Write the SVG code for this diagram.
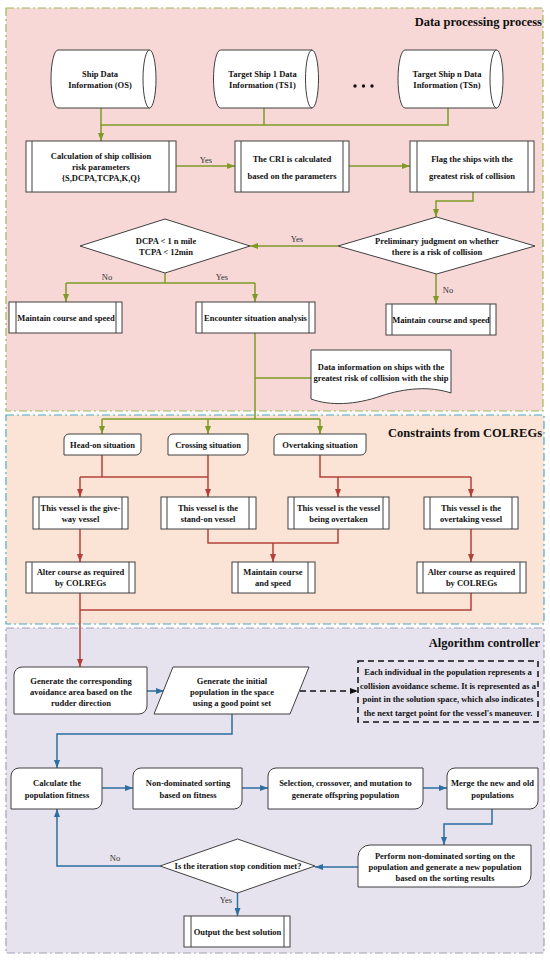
<svg xmlns="http://www.w3.org/2000/svg" width="550" height="962" viewBox="0 0 550 962">
<style>
.t{font-family:"Liberation Serif","Times New Roman",serif;font-weight:bold;font-size:8.5px;text-anchor:middle;fill:#111}
.ti{font-family:"Liberation Serif","Times New Roman",serif;font-weight:bold;font-size:12.5px;text-anchor:end;fill:#111}
.l{font-family:"Liberation Serif","Times New Roman",serif;font-size:8.5px;text-anchor:middle;fill:#333}
.bx{fill:#fff;stroke:#404040;stroke-width:1}
.ln{fill:none;stroke:#404040;stroke-width:1}
.g{fill:none;stroke:#7F9A26;stroke-width:1.5}
.r{fill:none;stroke:#B3413A;stroke-width:1.5}
.b{fill:none;stroke:#2C6FA0;stroke-width:1.5}
.ga{marker-end:url(#ag)}
.ra{marker-end:url(#ar)}
.ba{marker-end:url(#ab)}
</style>
<defs>
<marker id="ag" viewBox="0 0 8 6" refX="8" refY="3" markerWidth="8" markerHeight="6" markerUnits="userSpaceOnUse" orient="auto"><path d="M0,0 L8,3 L0,6 Z" fill="#7F9A26"/></marker>
<marker id="ar" viewBox="0 0 8 6" refX="8" refY="3" markerWidth="8" markerHeight="6" markerUnits="userSpaceOnUse" orient="auto"><path d="M0,0 L8,3 L0,6 Z" fill="#B3413A"/></marker>
<marker id="ab" viewBox="0 0 8 6" refX="8" refY="3" markerWidth="8" markerHeight="6" markerUnits="userSpaceOnUse" orient="auto"><path d="M0,0 L8,3 L0,6 Z" fill="#2C6FA0"/></marker>
<marker id="ak" viewBox="0 0 8 6" refX="8" refY="3" markerWidth="8" markerHeight="6" markerUnits="userSpaceOnUse" orient="auto"><path d="M0,0 L8,3 L0,6 Z" fill="#111"/></marker>
<path id="cyl" d="M58,50 H149.5 A6.5,29 0 0 1 149.5,108 H58 A7,29 0 0 1 58,50 Z"/>
</defs>
<rect width="550" height="962" fill="#fff"/>

<g id="regions">
<rect x="6" y="8" width="537" height="403" fill="#F7D8D7" stroke="#9BBB59" stroke-width="1.2" stroke-dasharray="8,3,2,3"/>
<rect x="6" y="415" width="538" height="209" fill="#FBE4D6" stroke="#4BACC6" stroke-width="1.2" stroke-dasharray="8,3,2,3"/>
<rect x="6" y="628" width="538" height="325" fill="#E7E3EE" stroke="#A39DB8" stroke-width="1.2" stroke-dasharray="8,3,2,3"/>
<text class="ti" x="542" y="26">Data processing process</text>
<text class="ti" x="542" y="437">Constraints from COLREGs</text>
<text class="ti" x="540" y="647">Algorithm controller</text>
</g>

<g id="connectors">
<path class="g" d="M101,108 V125 H448 V108 M264,108 V125"/>
<path class="g ga" d="M101,125 V141"/>
<path class="g ga" d="M176,166 H235"/>
<path class="g ga" d="M349,166 H410"/>
<path class="g ga" d="M473,192 V201 H436 V217"/>
<path class="g ga" d="M338,246 H250"/>
<path class="g" d="M165,273 V283 M66,283 H255"/>
<path class="g ga" d="M66,283 V302"/>
<path class="g ga" d="M255,283 V302"/>
<path class="g ga" d="M436,274 V304"/>
<path class="g" d="M255,333 V419 M255,378 H311 M102,419 H320"/>
<path class="g ga" d="M102,419 V434"/>
<path class="g ga" d="M208,419 V434"/>
<path class="g ga" d="M320,419 V434"/>
<path class="r" d="M102,455 V477 M208,455 V477 M80,477 H208 M320,455 V477 H471"/>
<path class="r ra" d="M80,477 V497"/>
<path class="r ra" d="M208,477 V497"/>
<path class="r ra" d="M338,477 V497"/>
<path class="r ra" d="M471,477 V497"/>
<path class="r ra" d="M80,529 V562"/>
<path class="r" d="M208,529 V543 H338 V529"/>
<path class="r ra" d="M273,543 V562"/>
<path class="r ra" d="M471,529 V562"/>
<path class="r" d="M471,593 V610 H80"/>
<path class="r ra" d="M80,593 V667"/>
<path class="b ba" d="M147,691 H164"/>
<path fill="none" stroke="#111" stroke-width="1.5" stroke-dasharray="6,4" marker-end="url(#ak)" d="M300,691 H358"/>
<path class="b ba" d="M232,714 V734 H57 V768"/>
<path class="b ba" d="M102,788 H133"/>
<path class="b ba" d="M242,788 H268"/>
<path class="b ba" d="M423,788 H447"/>
<path class="b ba" d="M492,809 V824 H444 V845"/>
<path class="b ba" d="M358,867 H315"/>
<path class="b ba" d="M160,866 H57 V809"/>
<path class="b ba" d="M237.5,893 V916"/>
<text class="l" x="206" y="163">Yes</text>
<text class="l" x="297" y="242">Yes</text>
<text class="l" x="107" y="280">No</text>
<text class="l" x="222" y="280">Yes</text>
<text class="l" x="448" y="293">No</text>
<text class="l" x="115" y="861">No</text>
<text class="l" x="226" y="903">Yes</text>
</g>

<g id="os">
<use href="#cyl" class="bx"/>
<path class="ln" d="M149.5,50 A6.5,29 0 0 0 149.5,108"/>
<text class="t" x="100" y="77">Ship Data</text>
<text class="t" x="100" y="88">Information (OS)</text>
</g>
<g id="ts1" transform="translate(162.5,0)">
<use href="#cyl" class="bx"/>
<path class="ln" d="M149.5,50 A6.5,29 0 0 0 149.5,108"/>
<text class="t" x="100" y="77">Target Ship 1 Data</text>
<text class="t" x="100" y="88">Information (TS1)</text>
</g>
<g id="dots" fill="#111">
<circle cx="355" cy="86" r="1.7"/><circle cx="363.5" cy="86" r="1.7"/><circle cx="372" cy="86" r="1.7"/>
</g>
<g id="tsn" transform="translate(347,0)">
<use href="#cyl" class="bx"/>
<path class="ln" d="M149.5,50 A6.5,29 0 0 0 149.5,108"/>
<text class="t" x="100" y="77">Target Ship n Data</text>
<text class="t" x="100" y="88">Information (TSn)</text>
</g>

<g id="calc">
<rect class="bx" x="26" y="141" width="150" height="51"/>
<path class="ln" d="M32,141 V192 M169,141 V192"/>
<text class="t" x="101" y="159">Calculation of ship collision</text>
<text class="t" x="101" y="170">risk parameters</text>
<text class="t" x="101" y="181">{S,DCPA,TCPA,K,Q}</text>
</g>
<g id="cri">
<rect class="bx" x="235" y="141" width="114" height="51"/>
<path class="ln" d="M241,141 V192 M343,141 V192"/>
<text class="t" x="292" y="162">The CRI is calculated</text>
<text class="t" x="292" y="179">based on the parameters</text>
</g>
<g id="flag">
<rect class="bx" x="410" y="141" width="124" height="51"/>
<path class="ln" d="M417,141 V192 M528,141 V192"/>
<text class="t" x="472" y="162">Flag the ships with the</text>
<text class="t" x="472" y="179">greatest risk of collision</text>
</g>
<g id="prelim">
<path class="bx" d="M338,246 L436.5,217 L535,246 L436.5,274 Z"/>
<text class="t" x="437" y="244">Preliminary judgment on whether</text>
<text class="t" x="437" y="255">there is a risk of collision</text>
</g>
<g id="dcpa">
<path class="bx" d="M80,246 L165,219 L250,246 L165,273 Z"/>
<text class="t" x="166" y="244">DCPA &lt; 1 n mile</text>
<text class="t" x="166" y="255">TCPA &lt; 12min</text>
</g>
<g id="maintain1">
<rect class="bx" x="9" y="302" width="113" height="31"/>
<path class="ln" d="M16,302 V333 M116,302 V333"/>
<text class="t" x="66" y="321">Maintain course and speed</text>
</g>
<g id="encounter">
<rect class="bx" x="196" y="302" width="119" height="31"/>
<path class="ln" d="M202,302 V333 M309,302 V333"/>
<text class="t" x="255.5" y="321">Encounter situation analysis</text>
</g>
<g id="maintain2">
<rect class="bx" x="386" y="304" width="110" height="31"/>
<path class="ln" d="M392,304 V335 M490,304 V335"/>
<text class="t" x="441" y="323">Maintain course and speed</text>
</g>
<g id="document">
<path class="bx" d="M311,350 H451 V393 C430,386 405,388 381,396 C355,405 330,406 311,399 Z"/>
<text class="t" x="381" y="370">Data information on ships with the</text>
<text class="t" x="381" y="381">greatest risk of collision with the ship</text>
</g>

<g id="headon">
<path class="bx" d="M64,439 A5,5 0 0 1 69,434 H141 V450 A5,5 0 0 1 136,455 H64 Z"/>
<text class="t" x="102.5" y="448">Head-on situation</text>
</g>
<g id="crossing">
<path class="bx" d="M168,439 A5,5 0 0 1 173,434 H248 V450 A5,5 0 0 1 243,455 H168 Z"/>
<text class="t" x="208" y="448">Crossing situation</text>
</g>
<g id="overtaking">
<path class="bx" d="M274,439 A5,5 0 0 1 279,434 H366 V450 A5,5 0 0 1 361,455 H274 Z"/>
<text class="t" x="320" y="448">Overtaking situation</text>
</g>
<g id="giveway">
<rect class="bx" x="33" y="497" width="95" height="32"/>
<path class="ln" d="M39,497 V529 M122,497 V529"/>
<text class="t" x="80.5" y="511">This vessel is the give-</text>
<text class="t" x="80.5" y="522">way vessel</text>
</g>
<g id="standon">
<rect class="bx" x="161" y="497" width="95" height="32"/>
<path class="ln" d="M167,497 V529 M249,497 V529"/>
<text class="t" x="208" y="511">This vessel is the</text>
<text class="t" x="208" y="522">stand-on vessel</text>
</g>
<g id="overtaken">
<rect class="bx" x="288" y="497" width="101" height="32"/>
<path class="ln" d="M294,497 V529 M383,497 V529"/>
<text class="t" x="338.5" y="511">This vessel is the vessel</text>
<text class="t" x="338.5" y="522">being overtaken</text>
</g>
<g id="overtakingvessel">
<rect class="bx" x="424" y="497" width="94" height="32"/>
<path class="ln" d="M430,497 V529 M512,497 V529"/>
<text class="t" x="471" y="511">This vessel is the</text>
<text class="t" x="471" y="522">overtaking vessel</text>
</g>
<g id="alter1">
<rect class="bx" x="26" y="562" width="109" height="31"/>
<path class="ln" d="M32,562 V593 M129,562 V593"/>
<text class="t" x="80.5" y="575">Alter course as required</text>
<text class="t" x="80.5" y="586">by COLREGs</text>
</g>
<g id="maintain3">
<rect class="bx" x="232" y="562" width="83" height="31"/>
<path class="ln" d="M238,562 V593 M308,562 V593"/>
<text class="t" x="273" y="575">Maintain course</text>
<text class="t" x="273" y="586">and speed</text>
</g>
<g id="alter2">
<rect class="bx" x="417" y="562" width="109" height="31"/>
<path class="ln" d="M423,562 V593 M520,562 V593"/>
<text class="t" x="471.5" y="575">Alter course as required</text>
<text class="t" x="471.5" y="586">by COLREGs</text>
</g>

<g id="generate">
<path class="bx" d="M14,675 A8,8 0 0 1 22,667 H147 V706 A8,8 0 0 1 139,714 H14 Z"/>
<text class="t" x="81" y="684">Generate the corresponding</text>
<text class="t" x="81" y="695">avoidance area based on the</text>
<text class="t" x="81" y="706">rudder direction</text>
</g>
<g id="initial">
<path class="bx" d="M173,667 H309 L290,714 H154 Z"/>
<text class="t" x="232" y="684">Generate the initial</text>
<text class="t" x="232" y="695">population in the space</text>
<text class="t" x="232" y="706">using a good point set</text>
</g>
<g id="note">
<rect x="358" y="661" width="180" height="61" fill="none" stroke="#111" stroke-width="1.5" stroke-dasharray="6,4"/>
<text class="t" x="448" y="675">Each individual in the population represents a</text>
<text class="t" x="448" y="689">collision avoidance scheme. It is represented as a</text>
<text class="t" x="448" y="702">point in the solution space, which also indicates</text>
<text class="t" x="448" y="716">the next target point for the vessel's maneuver.</text>
</g>
<g id="fitness">
<path class="bx" d="M11,776 A8,8 0 0 1 19,768 H102 V801 A8,8 0 0 1 94,809 H11 Z"/>
<text class="t" x="57" y="786">Calculate the</text>
<text class="t" x="57" y="798">population fitness</text>
</g>
<g id="nondom">
<path class="bx" d="M133,776 A8,8 0 0 1 141,768 H242 V801 A8,8 0 0 1 234,809 H133 Z"/>
<text class="t" x="188" y="786">Non-dominated sorting</text>
<text class="t" x="188" y="798">based on fitness</text>
</g>
<g id="selection">
<path class="bx" d="M268,776 A8,8 0 0 1 276,768 H423 V801 A8,8 0 0 1 415,809 H268 Z"/>
<text class="t" x="345.5" y="786">Selection, crossover, and mutation to</text>
<text class="t" x="345.5" y="798">generate offspring population</text>
</g>
<g id="merge">
<path class="bx" d="M447,776 A8,8 0 0 1 455,768 H538 V801 A8,8 0 0 1 530,809 H447 Z"/>
<text class="t" x="492.5" y="786">Merge the new and old</text>
<text class="t" x="492.5" y="798">populations</text>
</g>
<g id="perform">
<path class="bx" d="M358,857 A12,12 0 0 1 370,845 H531 V875 A12,12 0 0 1 519,887 H358 Z"/>
<text class="t" x="445" y="859">Perform non-dominated sorting on the</text>
<text class="t" x="445" y="870">population and generate a new population</text>
<text class="t" x="445" y="881">based on the sorting results</text>
</g>
<g id="stop">
<path class="bx" d="M160,866 L237.5,839 L315,866 L237.5,893 Z"/>
<text class="t" x="238" y="869">Is the iteration stop condition met?</text>
</g>
<g id="output">
<rect class="bx" x="184" y="916" width="106" height="31"/>
<path class="ln" d="M191,916 V947 M284,916 V947"/>
<text class="t" x="237.5" y="935">Output the best solution</text>
</g>
</svg>
